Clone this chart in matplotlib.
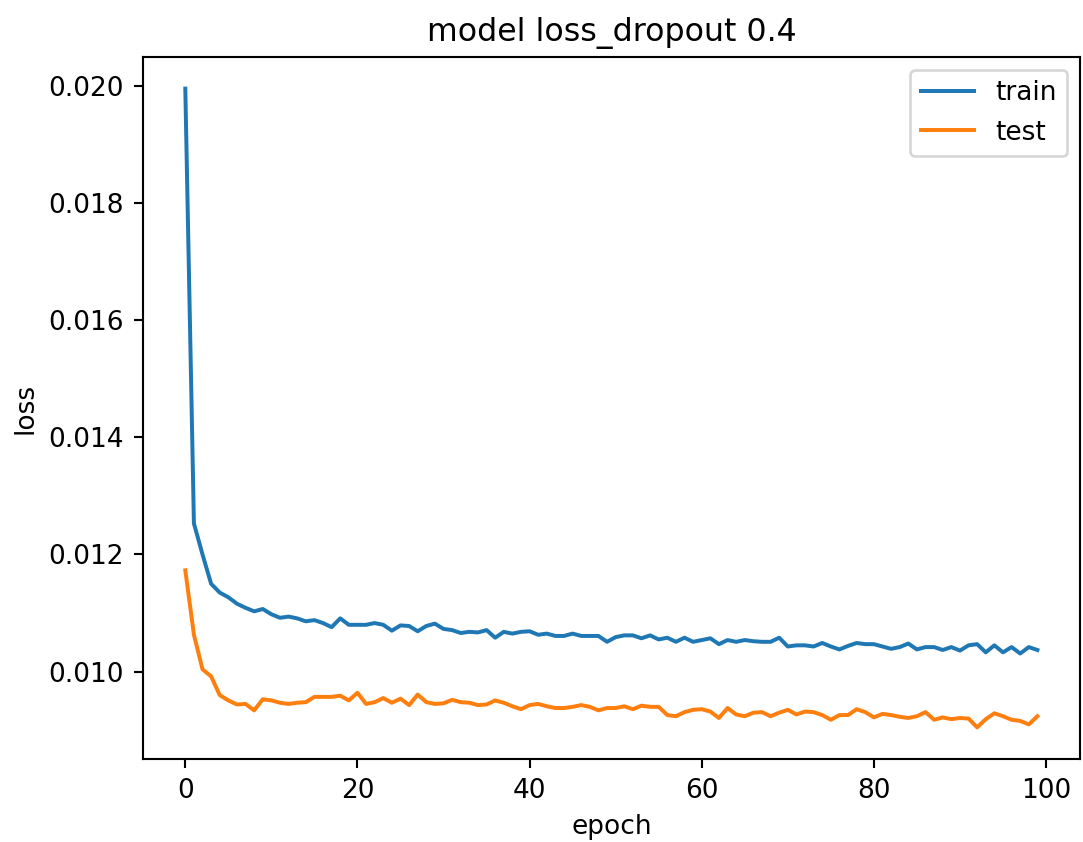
import matplotlib
matplotlib.use("Agg")
import matplotlib.pyplot as plt

epochs = list(range(100))

train_loss = [
    0.01995, 0.01253, 0.01200, 0.01150, 0.01135, 0.01127, 0.01116, 0.01109, 0.01103, 0.01107,
    0.01098, 0.01092, 0.01094, 0.01091, 0.01086, 0.01088, 0.01083, 0.01076, 0.01091, 0.01080,
    0.01080, 0.01080, 0.01083, 0.01080, 0.01070, 0.01079, 0.01078, 0.01069, 0.01078, 0.01082,
    0.01073, 0.01071, 0.01066, 0.01068, 0.01067, 0.01071, 0.01058, 0.01068, 0.01065, 0.01068,
    0.01069, 0.01063, 0.01065, 0.01061, 0.01061, 0.01065, 0.01061, 0.01061, 0.01061, 0.01051,
    0.01059, 0.01062, 0.01062, 0.01057, 0.01062, 0.01055, 0.01058, 0.01051, 0.01058, 0.01051,
    0.01054, 0.01057, 0.01047, 0.01054, 0.01051, 0.01054, 0.01052, 0.01051, 0.01051, 0.01058,
    0.01043, 0.01045, 0.01045, 0.01043, 0.01049, 0.01043, 0.01038, 0.01044, 0.01049, 0.01047,
    0.01047, 0.01043, 0.01039, 0.01042, 0.01048, 0.01038, 0.01042, 0.01042, 0.01037, 0.01042,
    0.01036, 0.01045, 0.01047, 0.01033, 0.01045, 0.01033, 0.01042, 0.01031, 0.01042, 0.01037,
]

test_loss = [
    0.01173, 0.01063, 0.01004, 0.00992, 0.00960, 0.00951, 0.00944, 0.00945, 0.00934, 0.00953,
    0.00951, 0.00947, 0.00945, 0.00947, 0.00948, 0.00957, 0.00957, 0.00957, 0.00959, 0.00951,
    0.00964, 0.00945, 0.00948, 0.00955, 0.00947, 0.00954, 0.00943, 0.00961, 0.00948, 0.00945,
    0.00946, 0.00952, 0.00948, 0.00947, 0.00943, 0.00944, 0.00951, 0.00947, 0.00941, 0.00936,
    0.00943, 0.00945, 0.00941, 0.00938, 0.00938, 0.00940, 0.00943, 0.00940, 0.00934, 0.00938,
    0.00938, 0.00941, 0.00936, 0.00942, 0.00940, 0.00940, 0.00926, 0.00924, 0.00931, 0.00935,
    0.00936, 0.00932, 0.00921, 0.00938, 0.00927, 0.00924, 0.00930, 0.00931, 0.00924, 0.00930,
    0.00935, 0.00927, 0.00932, 0.00931, 0.00926, 0.00918, 0.00926, 0.00926, 0.00936, 0.00931,
    0.00922, 0.00928, 0.00926, 0.00923, 0.00921, 0.00924, 0.00931, 0.00918, 0.00922, 0.00919,
    0.00921, 0.00920, 0.00905, 0.00919, 0.00929, 0.00924, 0.00918, 0.00916, 0.00910, 0.00924,
]

DPI = 190
fig = plt.figure(figsize=(1083 / DPI, 842 / DPI), dpi=DPI)
ax = fig.add_axes([142.7 / 1083, (842 - 759.3) / 842, 937.3 / 1083, 702.6 / 842])

ax.plot(epochs, train_loss, label="train")
ax.plot(epochs, test_loss, label="test")
ax.set_title("model loss_dropout 0.4")
ax.set_ylabel("loss")
ax.set_xlabel("epoch")
ax.legend(loc="upper right")

fig.savefig("out.png", dpi=DPI)
